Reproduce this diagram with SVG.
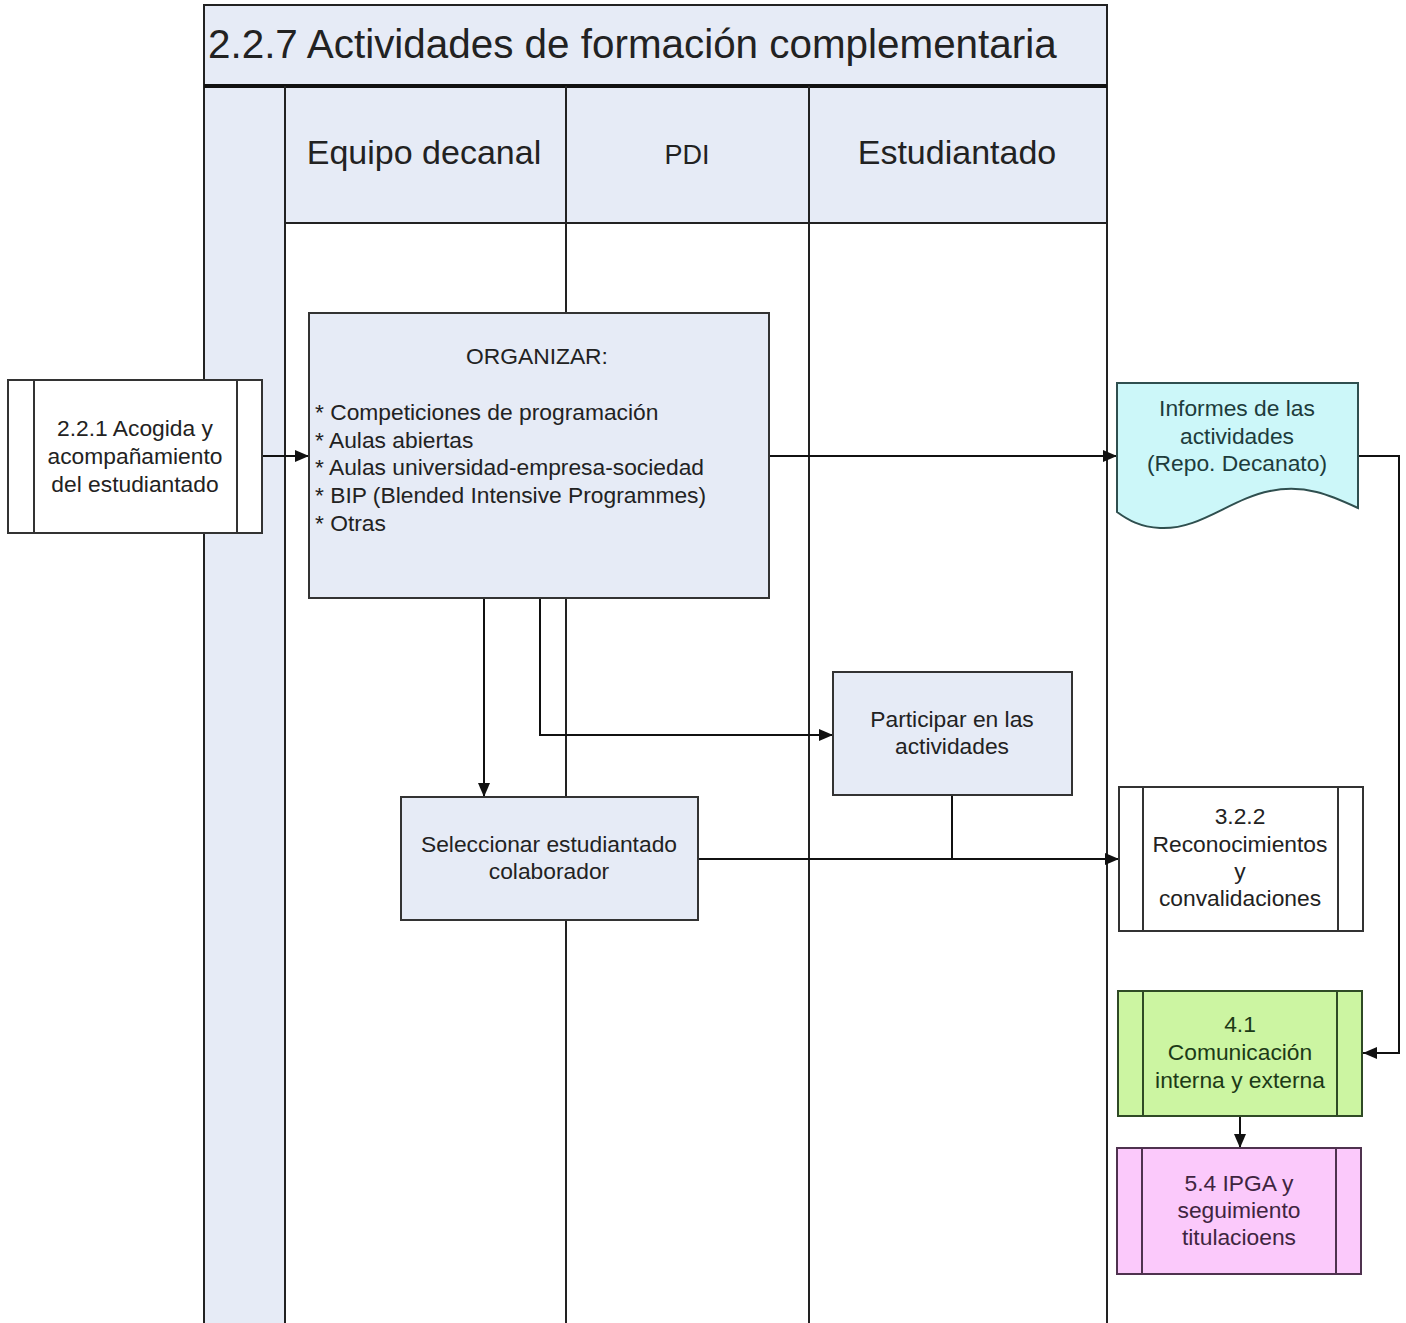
<svg xmlns="http://www.w3.org/2000/svg" width="1406" height="1323" viewBox="0 0 1406 1323">
<defs>
<style>
.t{font-family:"Liberation Sans",Arial,sans-serif;fill:#222;}
.b{font-size:22.8px;text-anchor:middle;}
.l{font-size:22.8px;}
.h{font-size:34px;text-anchor:middle;}
.box{stroke:#333;stroke-width:2;}
.blue{fill:#e6ebf6;}
.lane{stroke:#222;stroke-width:2;fill:none;}
.c{stroke:#111;stroke-width:2;fill:none;}
</style>
<marker id="ar" viewBox="0 0 14 12" refX="14" refY="6" markerWidth="14" markerHeight="12" markerUnits="userSpaceOnUse" orient="auto">
<path d="M0,0 L14,6 L0,12 Z" fill="#111"/>
</marker>
</defs>
<rect width="1406" height="1323" fill="#fff"/>
<g id="pool">
<rect x="204" y="5" width="903" height="81" class="blue"/>
<rect x="204" y="86" width="81" height="1237" class="blue"/>
<rect x="285" y="86" width="822" height="137" class="blue"/>
<path d="M204,1323 V5 H1107 V1323" class="lane" stroke-width="2.5"/>
<line x1="204" y1="86" x2="1107" y2="86" stroke="#111" stroke-width="4"/>
<line x1="285" y1="86" x2="285" y2="1323" class="lane"/>
<line x1="566" y1="86" x2="566" y2="1323" class="lane"/>
<line x1="809" y1="86" x2="809" y2="1323" class="lane"/>
<line x1="285" y1="223" x2="1107" y2="223" class="lane"/>
<text x="208" y="58" class="t" font-size="40.4">2.2.7 Actividades de formación complementaria</text>
<text x="424" y="164" class="t h">Equipo decanal</text>
<text x="687" y="164" class="t" font-size="27" text-anchor="middle">PDI</text>
<text x="957" y="164" class="t h">Estudiantado</text>
</g>
<g id="connectors">
<path d="M262,456 H309" class="c" marker-end="url(#ar)"/>
<path d="M769,456 H1117" class="c" marker-end="url(#ar)"/>
<path d="M1358,456 H1399 V1053 H1363" class="c" marker-end="url(#ar)"/>
<path d="M484,598 V797" class="c" marker-end="url(#ar)"/>
<path d="M540,598 V735 H833" class="c" marker-end="url(#ar)"/>
<path d="M698,859 H1119" class="c" marker-end="url(#ar)"/>
<path d="M952,795 V859" class="c"/>
<path d="M1240,1116 V1148" class="c" marker-end="url(#ar)"/>
</g>
<g id="acogida">
<rect x="8" y="380" width="254" height="153" fill="#fff" class="box"/>
<line x1="34" y1="380" x2="34" y2="533" class="box"/>
<line x1="237" y1="380" x2="237" y2="533" class="box"/>
<text class="t b"><tspan x="135" y="436">2.2.1 Acogida y</tspan><tspan x="135" y="464">acompañamiento</tspan><tspan x="135" y="492">del estudiantado</tspan></text>
</g>
<g id="organizar">
<rect x="309" y="313" width="460" height="285" class="box blue"/>
<text x="537" y="364" class="t b">ORGANIZAR:</text>
<text class="t l"><tspan x="315" y="420">* Competiciones de programación</tspan><tspan x="315" y="448">* Aulas abiertas</tspan><tspan x="315" y="475">* Aulas universidad-empresa-sociedad</tspan><tspan x="315" y="503">* BIP (Blended Intensive Programmes)</tspan><tspan x="315" y="531">* Otras</tspan></text>
</g>
<g id="informes">
<path d="M1117,383 H1358 V508 C1330,495 1305,484 1270,491 C1230,499 1200,530 1160,528 C1140,527 1128,520 1117,512 Z" fill="#ccf7f9" stroke="#2f4f4f" stroke-width="2"/>
<text class="t b" style="fill:#1d3c3c"><tspan x="1237" y="416">Informes de las</tspan><tspan x="1237" y="444">actividades</tspan><tspan x="1237" y="471">(Repo. Decanato)</tspan></text>
</g>
<g id="participar">
<rect x="833" y="672" width="239" height="123" class="box blue"/>
<text class="t b"><tspan x="952" y="727">Participar en las</tspan><tspan x="952" y="754">actividades</tspan></text>
</g>
<g id="seleccionar">
<rect x="401" y="797" width="297" height="123" class="box blue"/>
<text class="t b"><tspan x="549" y="852">Seleccionar estudiantado</tspan><tspan x="549" y="879">colaborador</tspan></text>
</g>
<g id="reconocimientos">
<rect x="1119" y="787" width="244" height="144" fill="#fff" class="box"/>
<line x1="1143" y1="787" x2="1143" y2="931" class="box"/>
<line x1="1338" y1="787" x2="1338" y2="931" class="box"/>
<text class="t b"><tspan x="1240" y="824">3.2.2</tspan><tspan x="1240" y="852">Reconocimientos</tspan><tspan x="1240" y="879">y</tspan><tspan x="1240" y="906">convalidaciones</tspan></text>
</g>
<g id="comunicacion">
<rect x="1118" y="991" width="244" height="125" fill="#ccf5a2" stroke="#2f4a25" stroke-width="2"/>
<line x1="1143" y1="991" x2="1143" y2="1116" stroke="#2f4a25" stroke-width="2"/>
<line x1="1337" y1="991" x2="1337" y2="1116" stroke="#2f4a25" stroke-width="2"/>
<text class="t b" style="fill:#1c3a17"><tspan x="1240" y="1032">4.1</tspan><tspan x="1240" y="1060">Comunicación</tspan><tspan x="1240" y="1088">interna y externa</tspan></text>
</g>
<g id="ipga">
<rect x="1117" y="1148" width="244" height="126" fill="#fbc9fb" stroke="#4f324f" stroke-width="2"/>
<line x1="1142" y1="1148" x2="1142" y2="1274" stroke="#4f324f" stroke-width="2"/>
<line x1="1336" y1="1148" x2="1336" y2="1274" stroke="#4f324f" stroke-width="2"/>
<text class="t b" style="fill:#3f2540"><tspan x="1239" y="1191">5.4 IPGA y</tspan><tspan x="1239" y="1218">seguimiento</tspan><tspan x="1239" y="1245">titulacioens</tspan></text>
</g>
</svg>
